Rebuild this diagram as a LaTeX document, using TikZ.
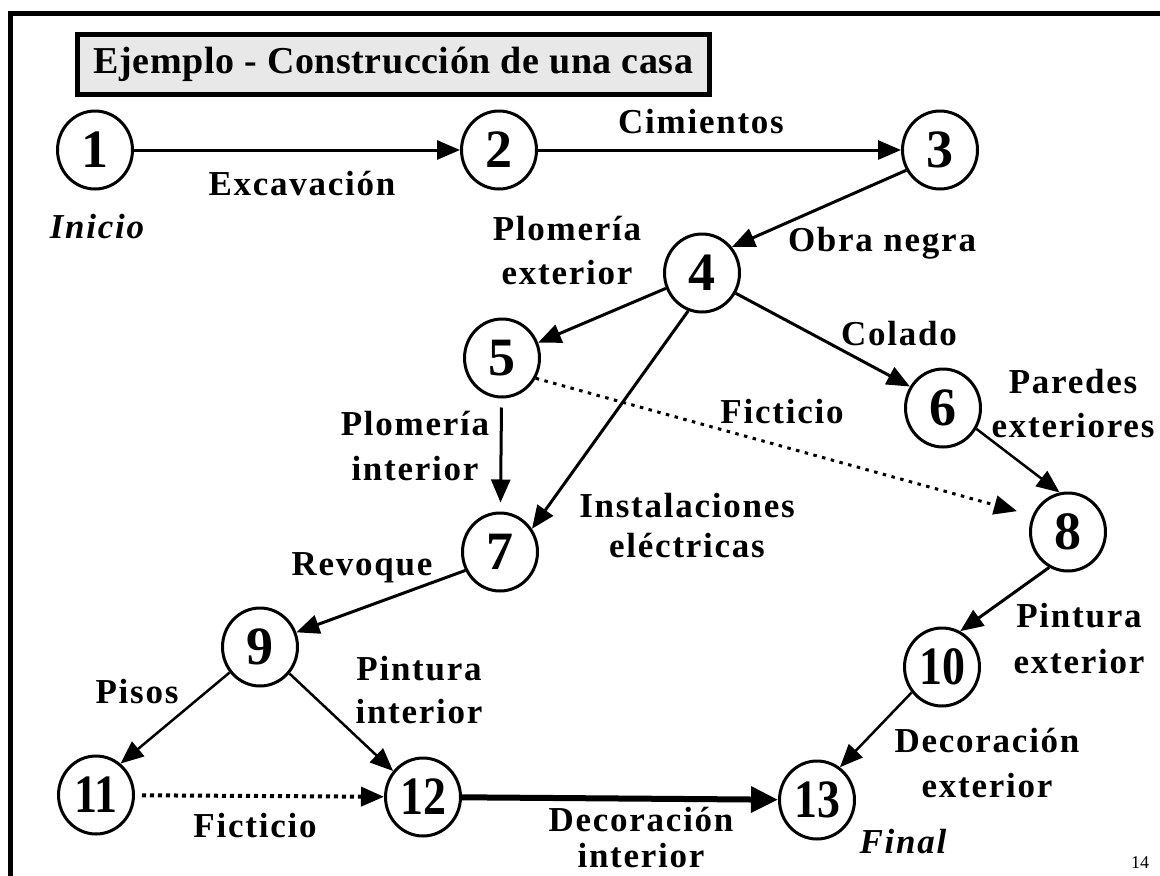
\documentclass[tikz,border=0pt]{standalone}
\usepackage{fontspec}
\setmainfont{Liberation Serif}
\newfontfamily\lblfam{Liberation Serif}[LetterSpace=5]
\newfontfamily\ttlfam{Liberation Serif}[LetterSpace=1.5]
\usetikzlibrary{arrows.meta,shapes.geometric}
\newcommand\twolines[3][0pt]{\begin{tabular}[t]{@{}c@{}}#2\\[#1]#3\end{tabular}}
\newcommand\narrow[1]{\scalebox{0.85}[1]{#1}}
\begin{document}
\begin{tikzpicture}[x=1pt,y=-1pt,
  num/.style={ellipse,draw,line width=3pt,minimum width=75pt,minimum height=78pt,inner sep=0pt,
    font=\fontsize{54}{54}\selectfont\bfseries},
  lbl/.style={anchor=base,inner sep=0pt,font=\lblfam\fontsize{35}{44}\selectfont\bfseries},
  ital/.style={anchor=base,inner sep=0pt,font=\lblfam\fontsize{35}{44}\selectfont\bfseries\itshape},
  arr/.style={line width=3pt,-{Triangle[length=23pt,width=19pt]}},
  thinarr/.style={line width=2.5pt,-{Triangle[length=23pt,width=19pt]}},
  dots/.style={dash pattern=on 3.5pt off 5.5pt}]
\useasboundingbox (0,0) rectangle (1160,876);
\fill[white] (0,0) rectangle (1160,876);
% frame
\draw[line width=5pt] (10,890) -- (10,13) -- (1170,13);
% title
\node[draw,line width=5pt,fill=black!9,minimum width=632pt,minimum height=60pt,inner sep=0pt,
  font=\ttlfam\fontsize{38}{40}\selectfont\bfseries] (title) at (393.5,64.5)
  {Ejemplo - Construcción de una casa};
% event nodes
\node[num] (n1) at (95,150) {1};
\node[num] (n2) at (499,150) {2};
\node[num] (n3) at (940,150) {3};
\node[num] (n4) at (702,273) {4};
\node[num] (n5) at (502,358) {5};
\node[num] (n6) at (943,408) {6};
\node[num] (n7) at (500,552) {7};
\node[num] (n8) at (1068,532) {8};
\node[num] (n9) at (260,647) {9};
\node[num] (n10) at (942,667) {\narrow{10}};
\node[num] (n11) at (96,795) {\narrow{11}};
\node[num] (n12) at (423,797) {\narrow{12}};
\node[num] (n13) at (817,800) {\narrow{13}};
% activities
\draw[arr] (n1) -- (n2);
\draw[arr] (n2) -- (n3);
\draw[arr] (n3.211) -- (n4.41);
\draw[arr] (n4) -- (n5);
\draw[arr] (n4.-31) -- (n6.147);
\draw[arr] (n4.250) -- (n7.36);
\draw[arr,shorten <=9pt,shorten >=9pt] (n5) -- (n7);
\draw[arr,dots,shorten >=16pt] (n5.-31) -- (n8.155);
\draw[thinarr] (n6.-32) -- (n8.102);
\draw[arr] (n7.208) -- (n9.22);
\draw[arr] (n8.242) -- (n10.63);
\draw[thinarr] (n9.220) -- (n11.52);
\draw[thinarr] (n9.-42) -- (n12.139);
\draw[thinarr] (n10.220) -- (n13.55);
\draw[line width=4pt,dash pattern=on 4pt off 4pt,shorten <=7pt,-{Triangle[length=23pt,width=19pt]}] (n11) -- (n12);
\draw[line width=6pt,-{Triangle[length=27pt,width=25pt]}] (n12) -- (n13);
% labels
\node[lbl] (lexc) at (302,195) {Excavación};
\node[lbl] (lcim) at (701,133) {Cimientos};
\node[ital] (lini) at (97,238) {Inicio};
\node[lbl] (lple) at (567,240) {\twolines{Plomería}{exterior}};
\node[lbl] (lobr) at (882,251) {Obra negra};
\node[lbl] (lcol) at (899,345) {Colado};
\node[lbl] (lfi1) at (782,423) {Ficticio};
\node[lbl] (lpar) at (1073,393) {\twolines{Paredes}{exteriores}};
\node[lbl] (lpli) at (415,435) {\twolines[1pt]{Plomería}{interior}};
\node[lbl] (lins) at (687,517) {\twolines[-4pt]{Instalaciones}{eléctricas}};
\node[lbl] (lrev) at (362,575) {Revoque};
\node[lbl] (lpti) at (419,680) {\twolines[-1pt]{Pintura}{interior}};
\node[lbl] (lpis) at (137,703) {Pisos};
\node[lbl] (lpte) at (1079,627) {\twolines[2pt]{Pintura}{exterior}};
\node[lbl] (lfi2) at (255,837) {Ficticio};
\node[lbl,font=\lblfam\fontsize{35}{30}\selectfont\bfseries] (ldei) at (641,831) {\twolines[3pt]{Decoración}{interior}};
\node[lbl] (ldee) at (987,752) {\twolines[1pt]{Decoración}{exterior}};
\node[ital] (lfin) at (903,853) {Final};
\node[anchor=base,inner sep=0pt,font=\fontsize{18}{20}\selectfont] (pg) at (1140,868) {14};
\end{tikzpicture}
\end{document}
